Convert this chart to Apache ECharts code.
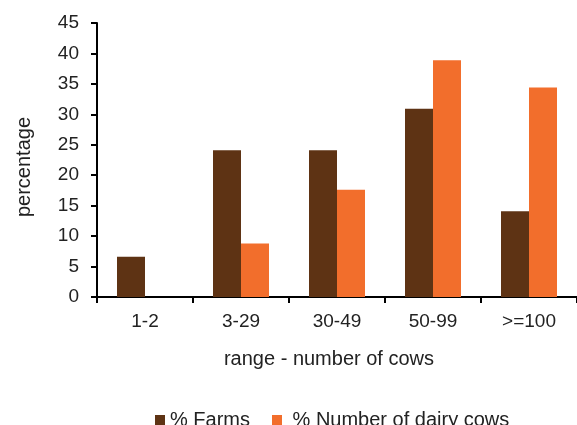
<!DOCTYPE html>
<html>
<head>
<meta charset="utf-8">
<script src="https://cdn.jsdelivr.net/npm/echarts@6/dist/echarts.min.js"></script>
<style>html,body{margin:0;padding:0;background:#fff;}#c{width:577px;height:425px;}</style>
</head>
<body>
<div id="c"></div>
<script>
var categories = ['1-2', '3-29', '30-49', '50-99', '>=100'];
var farms = [6.6, 24.1, 24.1, 30.9, 14.1];
var cows = [0, 8.8, 17.6, 38.9, 34.4];
var yTicks = [0, 5, 10, 15, 20, 25, 30, 35, 40, 45];

var font = 'Liberation Sans, Arial, sans-serif';
var chart = echarts.init(document.getElementById('c'), null, {renderer: 'canvas'});
chart.setOption({
  animation: false,
  backgroundColor: '#ffffff',
  textStyle: {fontFamily: font},
  grid: {left: 97, top: 23, width: 486, height: 274, containLabel: false},
  legend: {
    left: 150, top: 405,
    itemWidth: 10, itemHeight: 10, itemGap: 22,
    icon: 'rect',
    textStyle: {fontFamily: font, fontSize: 20, color: '#222'},
    formatter: function (n) { return n === '% Number of dairy cows' ? ' ' + n : n; },
    data: ['% Farms', '% Number of dairy cows']
  },
  xAxis: {
    type: 'category',
    data: categories,
    name: 'range - number of cows',
    nameLocation: 'middle',
    nameGap: 52,
    nameTextStyle: {fontFamily: font, fontSize: 20, color: '#222', padding: [0, 16, 0, 0]},
    axisLine: {lineStyle: {color: '#000', width: 2}},
    axisTick: {show: true, length: 6, lineStyle: {color: '#000', width: 2}, alignWithLabel: false},
    axisLabel: {fontFamily: font, fontSize: 19, color: '#222', margin: 15}
  },
  yAxis: {
    type: 'value',
    min: yTicks[0], max: yTicks[yTicks.length - 1], interval: 5,
    name: 'percentage',
    nameLocation: 'middle',
    nameGap: 63,
    nameRotate: 90,
    nameTextStyle: {fontFamily: font, fontSize: 20, color: '#222', padding: [0, 14, 0, 0]},
    axisLine: {show: true, lineStyle: {color: '#000', width: 2}},
    axisTick: {show: true, length: 6, lineStyle: {color: '#000', width: 2}},
    splitLine: {show: false},
    axisLabel: {fontFamily: font, fontSize: 19, color: '#222', margin: 18}
  },
  series: [
    {name: '% Farms', type: 'bar', data: farms, barWidth: 28, barGap: '0%',
     itemStyle: {color: '#5E3314'}},
    {name: '% Number of dairy cows', type: 'bar', data: cows, barWidth: 28, barGap: '0%',
     itemStyle: {color: '#F26E2C'}}
  ]
});
</script>
</body>
</html>
